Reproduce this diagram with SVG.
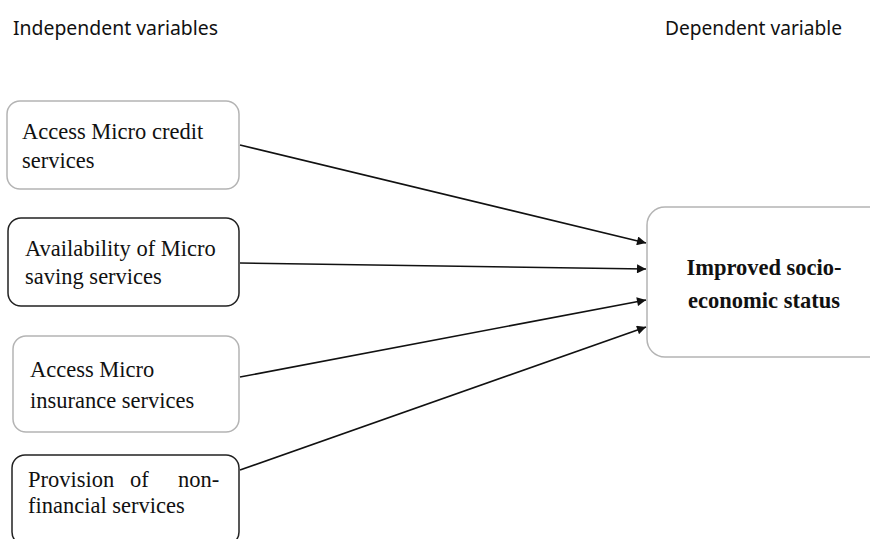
<svg xmlns="http://www.w3.org/2000/svg" width="870" height="539" viewBox="0 0 870 539">
<defs>
<style>
.hdr{font-family:"Noto Sans","Open Sans",sans-serif;font-size:19px;fill:#111}
.bx{fill:#fff;stroke-width:1.5}
.light{stroke:#b4b4b4}
.dark{stroke:#222}
.t{font-family:"Liberation Serif","Times New Roman",serif;font-size:22.5px;fill:#111}
.tb{font-family:"Liberation Serif","Times New Roman",serif;font-size:22.5px;font-weight:bold;fill:#111}
.conn line{stroke:#111;stroke-width:1.6;fill:none}
</style>
<marker id="ah" viewBox="0 0 10 10" refX="10" refY="5" markerWidth="10" markerHeight="9" markerUnits="userSpaceOnUse" orient="auto">
<path d="M0,0 L10,5 L0,10 z" fill="#111"/>
</marker>
</defs>
<rect width="870" height="539" fill="#fff"/>
<text class="hdr" x="13" y="35" textLength="205" lengthAdjust="spacingAndGlyphs">Independent variables</text>
<text class="hdr" x="665" y="35" textLength="177" lengthAdjust="spacingAndGlyphs">Dependent variable</text>
<g id="n1">
<rect class="bx light" x="7" y="101" width="232" height="88" rx="13"/>
<text class="t" x="22" y="139">Access Micro credit</text>
<text class="t" x="22" y="168">services</text>
</g>
<g id="n2">
<rect class="bx dark" x="8" y="218" width="231" height="88" rx="13"/>
<text class="t" x="25" y="256">Availability of Micro</text>
<text class="t" x="25" y="284">saving services</text>
</g>
<g id="n3">
<rect class="bx light" x="13" y="336" width="226" height="96" rx="13"/>
<text class="t" x="30" y="377">Access Micro</text>
<text class="t" x="30" y="408">insurance services</text>
</g>
<g id="n4">
<rect class="bx dark" x="12" y="455" width="227" height="90" rx="13"/>
<text class="t" x="28" y="487">Provision</text>
<text class="t" x="130" y="487">of</text>
<text class="t" x="178" y="487">non-</text>
<text class="t" x="28" y="513">financial services</text>
</g>
<g id="n5">
<rect class="bx light" x="647" y="207" width="240" height="150" rx="18"/>
<text class="tb" x="764" y="275" text-anchor="middle">Improved socio-</text>
<text class="tb" x="764" y="308" text-anchor="middle">economic status</text>
</g>
<g class="conn">
<line x1="240" y1="145" x2="646" y2="243" marker-end="url(#ah)"/>
<line x1="240" y1="263" x2="646" y2="269" marker-end="url(#ah)"/>
<line x1="240" y1="377" x2="646" y2="300" marker-end="url(#ah)"/>
<line x1="240" y1="470" x2="646" y2="327" marker-end="url(#ah)"/>
</g>
</svg>
